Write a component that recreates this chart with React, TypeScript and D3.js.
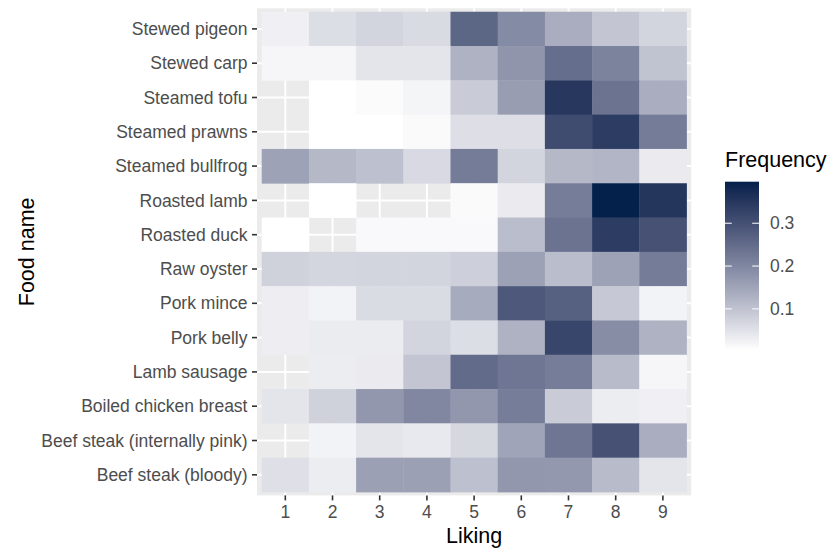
import React from 'react';
import * as d3 from 'd3';

// Liking scores on the x axis, foods on the y axis (top to bottom)
const likingLevels = ['1', '2', '3', '4', '5', '6', '7', '8', '9'];
const foodNames = [
  'Stewed pigeon',
  'Stewed carp',
  'Steamed tofu',
  'Steamed prawns',
  'Steamed bullfrog',
  'Roasted lamb',
  'Roasted duck',
  'Raw oyster',
  'Pork mince',
  'Pork belly',
  'Lamb sausage',
  'Boiled chicken breast',
  'Beef steak (internally pink)',
  'Beef steak (bloody)',
];

// Frequency of each liking score per food (null = no responses)
const stewedPigeon = [0.027, 0.056, 0.072, 0.061, 0.26, 0.194, 0.136, 0.095, 0.07];
const stewedCarp = [0.018, 0.018, 0.045, 0.045, 0.127, 0.176, 0.244, 0.208, 0.1];
const steamedTofu = [null, 0.004, 0.01, 0.02, 0.086, 0.163, 0.35, 0.235, 0.136];
const steamedPrawns = [null, 0.004, 0.004, 0.012, 0.055, 0.055, 0.31, 0.34, 0.22];
const steamedBullfrog = [0.154, 0.118, 0.104, 0.063, 0.22, 0.07, 0.118, 0.122, 0.036];
const roastedLamb = [null, 0.004, null, null, 0.012, 0.036, 0.217, 0.397, 0.353];
const roastedDuck = [0.004, null, 0.013, 0.013, 0.013, 0.108, 0.235, 0.34, 0.298];
const rawOyster = [0.077, 0.068, 0.07, 0.072, 0.079, 0.156, 0.108, 0.154, 0.22];
const porkMince = [0.03, 0.023, 0.059, 0.059, 0.138, 0.285, 0.271, 0.09, 0.023];
const porkBelly = [0.03, 0.034, 0.034, 0.072, 0.056, 0.127, 0.32, 0.19, 0.127];
const lambSausage = [null, 0.032, 0.036, 0.095, 0.25, 0.23, 0.217, 0.113, 0.018];
const boiledChickenBreast = [0.045, 0.077, 0.172, 0.2, 0.172, 0.217, 0.086, 0.032, 0.027];
const beefSteakPink = [null, 0.023, 0.045, 0.038, 0.066, 0.151, 0.23, 0.298, 0.136];
const beefSteakBloody = [0.052, 0.032, 0.158, 0.158, 0.104, 0.172, 0.17, 0.113, 0.045];

const frequencyRows = [
  stewedPigeon,
  stewedCarp,
  steamedTofu,
  steamedPrawns,
  steamedBullfrog,
  roastedLamb,
  roastedDuck,
  rawOyster,
  porkMince,
  porkBelly,
  lambSausage,
  boiledChickenBreast,
  beefSteakPink,
  beefSteakBloody,
];

const legendTicks = [0.1, 0.2, 0.3];

const LOW_COLOUR = '#ffffff';
const HIGH_COLOUR = '#03214a';
const FONT = '"Liberation Sans", Arial, Helvetica, sans-serif';

const W = 830;
const H = 548;
const panel = { left: 257, right: 691.2, top: 8.3, bottom: 495.4 };
const bar = { x: 725, width: 34, top: 181.7, bottom: 350 };

type Cell = { food: string; level: string; value: number | null };

export default function App() {
  const cells: Cell[] = [];
  frequencyRows.forEach((row, i) =>
    row.forEach((v, j) => cells.push({ food: foodNames[i], level: likingLevels[j], value: v }))
  );
  const values = cells.map((c) => c.value).filter((v): v is number => v !== null);
  const [vMin, vMax] = d3.extent(values) as [number, number];

  const x = d3
    .scaleBand<string>()
    .domain(likingLevels)
    .range([panel.left, panel.right])
    .paddingInner(0)
    .paddingOuter(0.1);
  const y = d3
    .scaleBand<string>()
    .domain(foodNames)
    .range([panel.top, panel.bottom])
    .paddingInner(0)
    .paddingOuter(0.1);

  const colour = d3
    .scaleLinear<string>()
    .domain([vMin, vMax])
    .range([LOW_COLOUR, HIGH_COLOUR])
    .interpolate(d3.interpolateLab);

  const legendY = d3.scaleLinear().domain([vMin, vMax]).range([bar.bottom, bar.top]);
  const gradientStops = d3.range(0, 1.0001, 0.05);

  const bw = x.bandwidth();
  const bh = y.bandwidth();

  return (
    <svg
      width={W}
      height={H}
      viewBox={`0 0 ${W} ${H}`}
      style={{ position: 'absolute', left: 0, top: 0, background: '#ffffff' }}
      fontFamily={FONT}
    >
      <defs>
        <linearGradient id="freq-gradient" x1="0" y1="1" x2="0" y2="0">
          {gradientStops.map((t) => (
            <stop key={t} offset={`${t * 100}%`} stopColor={colour(vMin + t * (vMax - vMin))} />
          ))}
        </linearGradient>
      </defs>

      {/* panel background and grid */}
      <rect
        x={panel.left}
        y={panel.top}
        width={panel.right - panel.left}
        height={panel.bottom - panel.top}
        fill="#ebebeb"
      />
      {likingLevels.map((l) => (
        <line
          key={`gx-${l}`}
          x1={x(l)! + bw / 2}
          x2={x(l)! + bw / 2}
          y1={panel.top}
          y2={panel.bottom}
          stroke="#ffffff"
          strokeWidth={2}
        />
      ))}
      {foodNames.map((f) => (
        <line
          key={`gy-${f}`}
          x1={panel.left}
          x2={panel.right}
          y1={y(f)! + bh / 2}
          y2={y(f)! + bh / 2}
          stroke="#ffffff"
          strokeWidth={2}
        />
      ))}

      {/* tiles */}
      {cells
        .filter((c) => c.value !== null)
        .map((c) => (
          <rect
            key={`${c.food}-${c.level}`}
            x={x(c.level)!}
            y={y(c.food)!}
            width={bw + 0.4}
            height={bh + 0.4}
            fill={colour(c.value as number)}
          />
        ))}

      {/* y axis */}
      {foodNames.map((f) => {
        const cy = y(f)! + bh / 2;
        return (
          <g key={`ya-${f}`}>
            <line x1={panel.left - 5} x2={panel.left} y1={cy} y2={cy} stroke="#333333" strokeWidth={1.6} />
            <text x={panel.left - 9.5} y={cy} dy="0.35em" textAnchor="end" fontSize={17.5} fill="#4d4d4d">
              {f}
            </text>
          </g>
        );
      })}

      {/* x axis */}
      {likingLevels.map((l) => {
        const cx = x(l)! + bw / 2;
        return (
          <g key={`xa-${l}`}>
            <line x1={cx} x2={cx} y1={panel.bottom} y2={panel.bottom + 5} stroke="#333333" strokeWidth={1.6} />
            <text x={cx} y={518.3} textAnchor="middle" fontSize={17.5} fill="#4d4d4d">
              {l}
            </text>
          </g>
        );
      })}

      {/* axis titles */}
      <text x={(panel.left + panel.right) / 2} y={543} textAnchor="middle" fontSize={21.5} fill="#000000">
        Liking
      </text>
      <text
        transform={`translate(34, ${(panel.top + panel.bottom) / 2}) rotate(-90)`}
        textAnchor="middle"
        fontSize={21.5}
        fill="#000000"
      >
        Food name
      </text>

      {/* colour bar legend */}
      <text x={bar.x} y={167} fontSize={21.5} fill="#000000">
        Frequency
      </text>
      <rect x={bar.x} y={bar.top} width={bar.width} height={bar.bottom - bar.top} fill="url(#freq-gradient)" />
      {legendTicks.map((t) => {
        const ty = legendY(t);
        return (
          <g key={`lt-${t}`}>
            <line x1={bar.x} x2={bar.x + 6.8} y1={ty} y2={ty} stroke="#ffffff" strokeWidth={1} />
            <line
              x1={bar.x + bar.width - 6.8}
              x2={bar.x + bar.width}
              y1={ty}
              y2={ty}
              stroke="#ffffff"
              strokeWidth={1}
            />
            <text x={770} y={ty} dy="0.35em" fontSize={17.5} fill="#4d4d4d">
              {t.toFixed(1)}
            </text>
          </g>
        );
      })}
    </svg>
  );
}
